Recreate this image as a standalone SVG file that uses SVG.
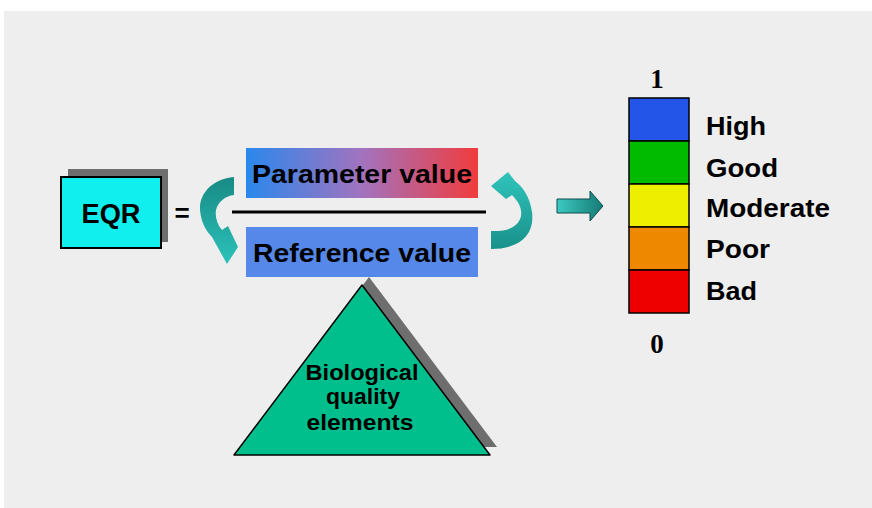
<svg xmlns="http://www.w3.org/2000/svg" width="872" height="508" viewBox="0 0 872 508">
<defs>
<linearGradient id="gParam" x1="0" y1="0" x2="1" y2="0">
<stop offset="0" stop-color="#2a88ec"/>
<stop offset="0.5" stop-color="#a273bf"/>
<stop offset="1" stop-color="#f03c3c"/>
</linearGradient>
<linearGradient id="gLeft" x1="0" y1="0" x2="0" y2="1">
<stop offset="0" stop-color="#188a85"/>
<stop offset="1" stop-color="#2cc2ba"/>
</linearGradient>
<linearGradient id="gRight" x1="0" y1="1" x2="0" y2="0">
<stop offset="0" stop-color="#18918a"/>
<stop offset="1" stop-color="#30c4bc"/>
</linearGradient>
<linearGradient id="gArrow" x1="0" y1="0" x2="1" y2="0">
<stop offset="0" stop-color="#3ccac2"/>
<stop offset="1" stop-color="#167a75"/>
</linearGradient>
<style>
.t{font-family:"Liberation Sans",Arial,sans-serif;font-weight:bold;fill:#000}
.s{font-family:"Liberation Serif","Times New Roman",serif;font-weight:bold;fill:#000;font-size:27px}
.band{stroke:#000;stroke-width:1.5}
.shadow{fill:#6e6e6e}
</style>
</defs>
<rect x="0" y="0" width="872" height="508" fill="#ffffff"/>
<rect x="4" y="11" width="868" height="497" fill="#eeeeee"/>

<g id="eqr">
<rect class="shadow" x="68" y="169" width="100" height="73"/>
<rect x="61" y="177" width="100" height="71" fill="#11eeee" stroke="#000" stroke-width="2"/>
<text class="t" x="111" y="223" font-size="27" text-anchor="middle" textLength="59" lengthAdjust="spacingAndGlyphs">EQR</text>
</g>
<g id="equals">
<text class="t" x="182" y="222" font-size="26" text-anchor="middle">=</text>
</g>

<g id="parameter">
<rect x="246" y="148" width="232" height="50" fill="url(#gParam)"/>
<text class="t" x="252" y="183" font-size="25" textLength="220" lengthAdjust="spacingAndGlyphs">Parameter value</text>
</g>
<g id="fraction-line">
<line x1="232" y1="212" x2="486" y2="212" stroke="#000" stroke-width="3"/>
</g>
<g id="reference">
<rect x="246" y="227" width="232" height="50" fill="#5588e8"/>
<text class="t" x="253" y="262" font-size="25" textLength="218" lengthAdjust="spacingAndGlyphs">Reference value</text>
</g>

<g id="biological">
<polygon class="shadow" points="369,277 241,447 497,447"/>
<polygon points="362,285 234,455 490,455" fill="#00bf8c" stroke="#000" stroke-width="1.5" stroke-linejoin="round"/>
<text class="t" x="362" y="380" font-size="22" text-anchor="middle" textLength="113" lengthAdjust="spacingAndGlyphs">Biological</text>
<text class="t" x="363" y="404" font-size="22" text-anchor="middle" textLength="74" lengthAdjust="spacingAndGlyphs">quality</text>
<text class="t" x="360" y="430" font-size="22" text-anchor="middle" textLength="107" lengthAdjust="spacingAndGlyphs">elements</text>
</g>

<g id="scale">
<text class="s" x="657" y="88" text-anchor="middle">1</text>
<rect class="band" x="629" y="98" width="60" height="43" fill="#2255e8"/>
<rect class="band" x="629" y="141" width="60" height="43" fill="#00bb00"/>
<rect class="band" x="629" y="184" width="60" height="43" fill="#eeee00"/>
<rect class="band" x="629" y="227" width="60" height="43" fill="#ee8800"/>
<rect class="band" x="629" y="270" width="60" height="43" fill="#ee0000"/>
<text class="s" x="657" y="353" text-anchor="middle">0</text>
<text class="t" x="706" y="135" font-size="25" textLength="60" lengthAdjust="spacingAndGlyphs">High</text>
<text class="t" x="706" y="177" font-size="25" textLength="72" lengthAdjust="spacingAndGlyphs">Good</text>
<text class="t" x="706" y="217" font-size="25" textLength="124" lengthAdjust="spacingAndGlyphs">Moderate</text>
<text class="t" x="706" y="258" font-size="25" textLength="64" lengthAdjust="spacingAndGlyphs">Poor</text>
<text class="t" x="706" y="300" font-size="25" textLength="51" lengthAdjust="spacingAndGlyphs">Bad</text>
</g>

<g id="connectors">
<path d="M 234,177 C 212,179 199,194 200,210 C 201,222 206,231 212,237 L 227,264 L 238,247 L 228,226 L 222,230 C 217,224 215,217 216,210 C 218,202 225,196 234,195 Z" fill="url(#gLeft)"/>
<path d="M 491,249 C 520,249 535,235 532,212 C 530,197 523,187 515,181 L 508,172 L 491,186 L 506,199 L 512,195 C 520,203 522,210 521,216 C 519,226 508,232 491,231 Z" fill="url(#gRight)"/>
<path d="M 557,199 L 590,199 L 590,191 L 603,206 L 590,221 L 590,213 L 557,213 Z" fill="url(#gArrow)" stroke="#0d4f4c" stroke-width="1"/>
</g>
</svg>
